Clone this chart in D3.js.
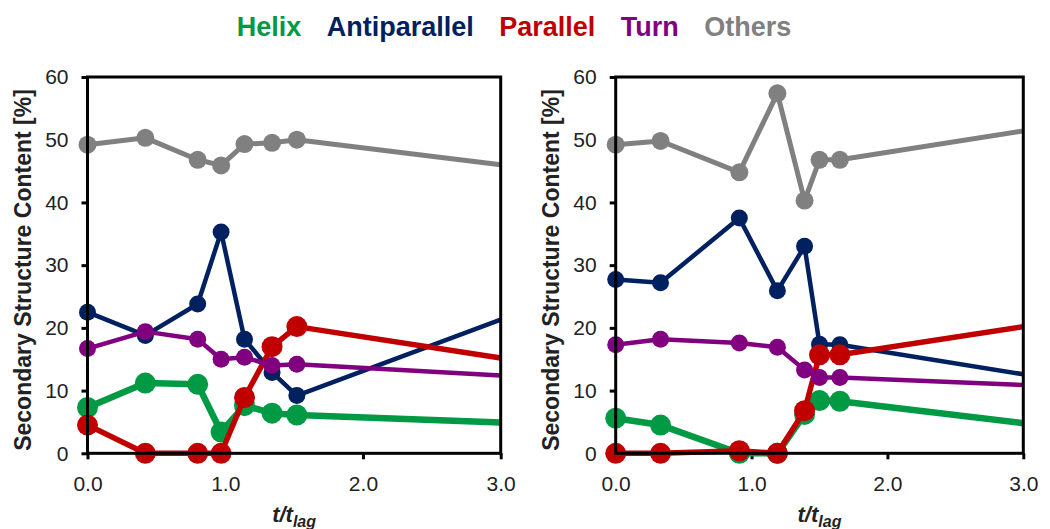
<!DOCTYPE html>
<html>
<head>
<meta charset="utf-8">
<script src="https://cdn.jsdelivr.net/npm/d3@7/dist/d3.min.js"></script>
<style>
  html, body { margin: 0; padding: 0; background: #fff; }
  svg { display: block; font-family: "Liberation Sans", Arial, sans-serif; }
</style>
</head>
<body>
<svg id="chart" width="1050" height="529"></svg>
<script>
// ---- data ----
const seriesNames = ["Helix", "Antiparallel", "Parallel", "Turn", "Others"];
const xTickValues = [0, 1, 2, 3];
const xTickLabels = ["0.0", "1.0", "2.0", "3.0"];
const yTickValues = [0, 10, 20, 30, 40, 50, 60];

// first run (left panel): time normalised by lag time
const tLeft        = [0.00, 0.42, 0.80, 0.97, 1.14, 1.34, 1.52, 3.00];
const helixLeft    = [7.3, 11.2, 11.0, 3.4, 7.6, 6.4, 6.1, 4.9];
const antiLeft     = [22.5, 18.8, 23.8, 35.3, 18.2, 12.9, 9.2, 21.3];
const parallelLeft = [4.5, 0.0, 0.0, 0.0, 8.9, 17.0, 20.2, 15.2];
const turnLeft     = [16.7, 19.4, 18.2, 15.0, 15.3, 14.0, 14.2, 12.4];
const othersLeft   = [49.2, 50.3, 46.8, 45.9, 49.3, 49.5, 50.0, 46.0];

// second run (right panel)
const tRight        = [0.00, 0.33, 0.91, 1.19, 1.39, 1.50, 1.65, 3.00];
const helixRight    = [5.6, 4.5, 0.0, 0.0, 6.2, 8.4, 8.3, 4.8];
const antiRight     = [27.7, 27.2, 37.5, 25.9, 33.0, 17.4, 17.3, 12.6];
const parallelRight = [0.0, 0.0, 0.4, 0.0, 6.8, 15.7, 15.7, 20.2];
const turnRight     = [17.3, 18.2, 17.6, 16.9, 13.3, 12.1, 12.1, 10.9];
const othersRight   = [49.2, 49.8, 44.8, 57.4, 40.3, 46.8, 46.8, 51.4];

// ---- styling ----
const colors = {
  Helix: "#009944",
  Antiparallel: "#002060",
  Parallel: "#c00000",
  Turn: "#800080",
  Others: "#808080"
};
const lineWidth = { Helix: 6.5, Antiparallel: 4.5, Parallel: 5.5, Turn: 4.5, Others: 5 };
const markerR   = { Helix: 10.5, Antiparallel: 8.5, Parallel: 10.5, Turn: 8.5, Others: 9 };
// drawing order (back to front)
const drawOrder = ["Others", "Antiparallel", "Helix", "Parallel", "Turn"];
const textColor = "#222";

const panels = [
  { x0: 87.5, x1: 500.7, t: tLeft,
    values: { Helix: helixLeft, Antiparallel: antiLeft, Parallel: parallelLeft, Turn: turnLeft, Others: othersLeft } },
  { x0: 615.7, x1: 1023.3, t: tRight,
    values: { Helix: helixRight, Antiparallel: antiRight, Parallel: parallelRight, Turn: turnRight, Others: othersRight } }
];
const yTop = 77, yBottom = 453.3;

const svg = d3.select("#chart");

// ---- legend across the top ----
const legend = svg.append("g");
const legendItems = legend.selectAll("text")
  .data(seriesNames).enter().append("text")
  .attr("y", 36)
  .attr("font-size", 27)
  .attr("font-weight", "bold")
  .attr("fill", d => colors[d])
  .text(d => d);
const gap = 25.5;
let widths = [];
legendItems.each(function () { widths.push(this.getComputedTextLength()); });
const total = d3.sum(widths) + gap * (widths.length - 1);
let cursor = 514 - total / 2;
legendItems.attr("x", (d, i) => { const x = cursor; cursor += widths[i] + gap; return x; });

// ---- panels ----
panels.forEach(p => {
  const x = d3.scaleLinear().domain([0, 3]).range([p.x0, p.x1]);
  const y = d3.scaleLinear().domain([0, 60]).range([yBottom, yTop]);
  const g = svg.append("g");

  // y axis
  const yAxis = g.append("g")
    .attr("transform", `translate(${p.x0},0)`)
    .call(d3.axisLeft(y).tickValues(yTickValues).tickSize(6).tickPadding(13));
  // x axis
  const xAxis = g.append("g")
    .attr("transform", `translate(0,${yBottom})`)
    .call(d3.axisBottom(x).tickValues(xTickValues).tickFormat((d, i) => xTickLabels[i])
      .tickSize(6).tickPadding(17));
  [yAxis, xAxis].forEach(a => {
    a.select(".domain").remove();
    a.selectAll(".tick line").attr("stroke", "#000").attr("stroke-width", 3);
    a.selectAll(".tick text").attr("font-size", 21).attr("fill", textColor)
      .attr("font-family", "'Liberation Sans', Arial, sans-serif");
  });

  // series
  seriesNames.slice().sort((a, b) => drawOrder.indexOf(a) - drawOrder.indexOf(b)).forEach(name => {
    const pts = p.t.map((t, i) => ({ t, v: p.values[name][i] }));
    const sg = g.append("g");
    sg.append("path")
      .datum(pts)
      .attr("fill", "none")
      .attr("stroke", colors[name])
      .attr("stroke-width", lineWidth[name])
      .attr("stroke-linejoin", "round")
      .attr("d", d3.line().x(d => x(d.t)).y(d => y(d.v)));
    // final reading sits at the right frame edge and carries no marker
    sg.selectAll("circle")
      .data(pts.filter(d => d.t < 3))
      .enter().append("circle")
      .attr("cx", d => x(d.t))
      .attr("cy", d => y(d.v))
      .attr("r", markerR[name])
      .attr("fill", colors[name]);
  });

  // frame
  g.append("rect")
    .attr("x", p.x0).attr("y", yTop)
    .attr("width", p.x1 - p.x0).attr("height", yBottom - yTop)
    .attr("fill", "none").attr("stroke", "#000").attr("stroke-width", 3);

  // axis titles
  g.append("text")
    .attr("transform", `translate(${p.x0 - 56.5},270) rotate(-90)`)
    .attr("text-anchor", "middle")
    .attr("font-size", 23)
    .attr("font-weight", "bold")
    .attr("fill", textColor)
    .text("Secondary Structure Content [%]");

  const xt = g.append("text")
    .attr("x", (p.x0 + p.x1) / 2)
    .attr("y", 522)
    .attr("text-anchor", "middle")
    .attr("font-size", 22)
    .attr("font-weight", "bold")
    .attr("font-style", "italic")
    .attr("fill", textColor);
  xt.append("tspan").text("t/t");
  xt.append("tspan").attr("dy", 5).attr("font-size", 16).text("lag");
});
</script>
</body>
</html>
